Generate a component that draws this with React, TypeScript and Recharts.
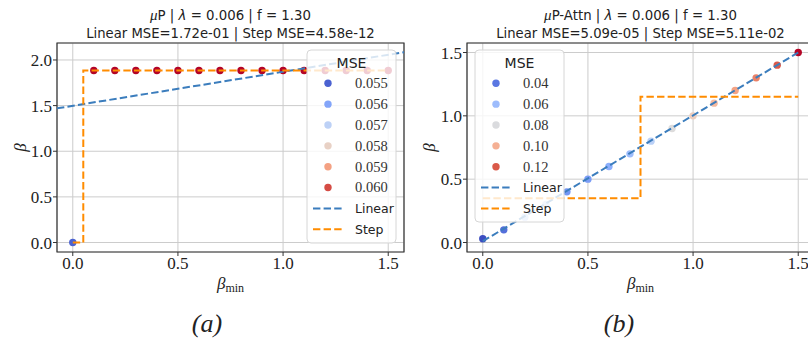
import React from 'react';
import { ComposedChart, Scatter, XAxis, YAxis, CartesianGrid, ReferenceArea } from 'recharts';

// ---------- data ----------
const betaMin = [0, 0.1, 0.2, 0.3, 0.4, 0.5, 0.6, 0.7, 0.8, 0.9, 1.0, 1.1, 1.2, 1.3, 1.4, 1.5];

// (a) muP
const betaA = [0, 1.885, 1.885, 1.885, 1.885, 1.885, 1.885, 1.885, 1.885, 1.885, 1.885, 1.885, 1.885, 1.885, 1.885, 1.885];
const mseA = [0.0550, 0.0606, 0.0606, 0.0606, 0.0606, 0.0606, 0.0606, 0.0606, 0.0606, 0.0606, 0.0606, 0.0606, 0.0606, 0.0606, 0.0606, 0.0606];
const linearAx = [-0.075, 1.575];
const linearAy = [1.47, 2.085];
const stepA = { threshold: 0.05, low: 0, high: 1.885, start: 0, end: 1.5 };
const legendA = [0.055, 0.056, 0.057, 0.058, 0.059, 0.060];
const cmapA = { vmin: 0.0547, vmax: 0.0606 };
const yDomainA: [number, number] = [-0.104, 2.186];

// (b) muP-Attn
const betaB = [0.03, 0.1, 0.2, 0.3, 0.4, 0.5, 0.6, 0.7, 0.8, 0.9, 1.0, 1.1, 1.2, 1.3, 1.4, 1.5];
const mseB = [0.030, 0.038, 0.066, 0.069, 0.048, 0.050, 0.055, 0.060, 0.069, 0.081, 0.089, 0.097, 0.104, 0.112, 0.120, 0.132];
const linearBx = [0, 1.5];
const linearBy = [0.01, 1.5];
const stepB = { threshold: 0.75, low: 0.35, high: 1.15, start: 0, end: 1.5 };
const legendB = [0.04, 0.06, 0.08, 0.10, 0.12];
const cmapB = { vmin: 0.0297, vmax: 0.1323 };
const yDomainB: [number, number] = [-0.075, 1.575];

const xDomain: [number, number] = [-0.075, 1.575];
const ticksX = [0, 0.5, 1.0, 1.5];
const ticksYA = [0, 0.5, 1.0, 1.5, 2.0];
const ticksYB = [0, 0.5, 1.0, 1.5];

// ---------- styling ----------
const BLUE = '#3b7dbd';
const ORANGE = '#ff8c00';
const DASH = '7.4 3.2';
const SERIF = "'Liberation Serif', 'Times New Roman', 'DejaVu Serif'";
const SANS = "'DejaVu Sans', 'Liberation Sans'";

const coolwarmStops = ['#3b4cc0', '#6282ea', '#8db0fe', '#b9d0f9', '#dddcdc', '#f5c4ac', '#f49a7b', '#dc5d4b', '#b40426'];
function hex(h: string) {
  return [parseInt(h.slice(1, 3), 16), parseInt(h.slice(3, 5), 16), parseInt(h.slice(5, 7), 16)];
}
function coolwarm(v: number, vmin: number, vmax: number) {
  let t = (v - vmin) / (vmax - vmin);
  t = Math.max(0, Math.min(1, t));
  const pos = t * (coolwarmStops.length - 1);
  const i = Math.min(Math.floor(pos), coolwarmStops.length - 2);
  const f = pos - i;
  const a = hex(coolwarmStops[i]);
  const b = hex(coolwarmStops[i + 1]);
  const c = a.map((av, k) => Math.round(av + (b[k] - av) * f));
  return `rgb(${c[0]},${c[1]},${c[2]})`;
}

function stepPoints(s: { threshold: number; low: number; high: number; start: number; end: number }) {
  return [
    { x: s.start, y: s.low },
    { x: s.threshold, y: s.low },
    { x: s.threshold, y: s.high },
    { x: s.end, y: s.high },
  ];
}

const dotShape = (props: any) => {
  const { cx, cy, payload } = props;
  if (cx == null || cy == null) return <g />;
  return <circle cx={cx} cy={cy} r={3.7} fill={payload.color} />;
};
const noShape = () => <g />;

type PanelProps = {
  beta: number[];
  mse: number[];
  cmap: { vmin: number; vmax: number };
  linX: number[];
  linY: number[];
  step: { threshold: number; low: number; high: number; start: number; end: number };
  yDomain: [number, number];
  yTicks: number[];
  width: number;
  yAxisWidth: number;
};

function Panel(p: PanelProps) {
  const pts = betaMin.map((x, i) => ({ x, y: p.beta[i], color: coolwarm(p.mse[i], p.cmap.vmin, p.cmap.vmax) }));
  const lin = p.linX.map((x, i) => ({ x, y: p.linY[i] }));
  const stp = stepPoints(p.step);
  const tickStyle = { fontFamily: SERIF, fontSize: 17, fill: '#222', style: { fontFamily: SERIF } };
  return (
    <ComposedChart width={p.width} height={339} margin={{ top: 43, right: 2, bottom: 57, left: 0 }}>
      <CartesianGrid stroke="#cccccc" strokeWidth={1} />
      <XAxis
        type="number"
        dataKey="x"
        domain={xDomain}
        ticks={ticksX}
        allowDataOverflow
        axisLine={false}
        tickLine={{ stroke: '#333' }}
        tickSize={4}
        tickMargin={1}
        height={30}
        tick={tickStyle}
        tickFormatter={(v: number) => v.toFixed(1)}
      />
      <YAxis
        type="number"
        dataKey="y"
        domain={p.yDomain}
        ticks={p.yTicks}
        allowDataOverflow
        axisLine={false}
        tickLine={{ stroke: '#333' }}
        tickSize={4}
        tickMargin={1}
        width={p.yAxisWidth}
        tick={tickStyle}
        tickFormatter={(v: number) => v.toFixed(1)}
      />
      <Scatter data={pts} shape={dotShape} isAnimationActive={false} />
      <Scatter
        data={lin}
        shape={noShape}
        line={{ stroke: BLUE, strokeWidth: 2, strokeDasharray: DASH }}
        lineType="joint"
        isAnimationActive={false}
      />
      <Scatter
        data={stp}
        shape={noShape}
        line={{ stroke: ORANGE, strokeWidth: 2, strokeDasharray: DASH }}
        lineType="joint"
        isAnimationActive={false}
      />
      <ReferenceArea
        x1={xDomain[0]}
        x2={xDomain[1]}
        y1={p.yDomain[0]}
        y2={p.yDomain[1]}
        fill="none"
        stroke="#333"
        strokeWidth={1.2}
        ifOverflow="visible"
      />
    </ComposedChart>
  );
}

function LegendBox({ x, values, cmap, fmt, height }: { x: number; values: number[]; cmap: { vmin: number; vmax: number }; fmt: (v: number) => string; height: number }) {
  const top = 50;
  const rowY = (i: number) => 83.3 + i * 20.85;
  const n = values.length;
  return (
    <g>
      <rect x={x} y={top} width={89} height={height} rx={4} fill="#ffffff" fillOpacity={0.8} stroke="#d6d6d6" strokeWidth={1} />
      <text x={x + 44.5} y={68} textAnchor="middle" style={{ fontFamily: SANS }} fontSize={14} fill="#222">MSE</text>
      {values.map((v, i) => (
        <g key={i}>
          <circle cx={x + 21} cy={rowY(i)} r={3.7} fill={coolwarm(v, cmap.vmin, cmap.vmax)} />
          <text x={x + 48} y={rowY(i) + 4.8} style={{ fontFamily: SERIF }} fontSize={14.5} fill="#333">{fmt(v)}</text>
        </g>
      ))}
      <line x1={x + 6} x2={x + 36} y1={rowY(n)} y2={rowY(n)} stroke={BLUE} strokeWidth={2} strokeDasharray={DASH} />
      <text x={x + 48} y={rowY(n) + 4.8} style={{ fontFamily: SANS }} fontSize={12.5} fill="#222">Linear</text>
      <line x1={x + 6} x2={x + 36} y1={rowY(n + 1)} y2={rowY(n + 1)} stroke={ORANGE} strokeWidth={2} strokeDasharray={DASH} />
      <text x={x + 48} y={rowY(n + 1) + 4.8} style={{ fontFamily: SANS }} fontSize={12.5} fill="#222">Step</text>
    </g>
  );
}

function Titles({ cx, name, l1, l2 }: { cx: number; name: string; l1: string; l2: string }) {
  return (
    <g fill="#222">
      <text x={cx} y={20} textAnchor="middle" fontSize={13.3} style={{ fontFamily: SANS }}>
        <tspan fontStyle="italic" style={{ fontFamily: SERIF }} fontSize={15}>μ</tspan>
        <tspan>{name} | </tspan>
        <tspan fontStyle="italic">λ</tspan>
        <tspan> = {l1} | f = 1.30</tspan>
      </text>
      <text x={cx} y={38.3} textAnchor="middle" fontSize={13.2} style={{ fontFamily: SANS }}>{l2}</text>
    </g>
  );
}

function AxisLabels({ cx, ylx, tag, tagX }: { cx: number; ylx: number; tag: string; tagX: number }) {
  return (
    <g fill="#222" style={{ fontFamily: SERIF }}>
      <text x={ylx} y={147.5} transform={`rotate(-90 ${ylx} ${147.5})`} textAnchor="middle" dominantBaseline="central" fontStyle="italic" fontSize={17}>β</text>
      <text x={cx} y={289} textAnchor="middle" fontSize={17}>
        <tspan fontStyle="italic">β</tspan>
        <tspan fontSize={12} dy={3}>min</tspan>
      </text>
      <text x={tagX} y={332} textAnchor="middle" fontStyle="italic" fontSize={26}>{tag}</text>
    </g>
  );
}

export default function App() {
  return (
    <div style={{ position: 'absolute', left: 0, top: 0, width: 808, height: 339, overflow: 'hidden', background: '#fff' }}>
      <div style={{ position: 'absolute', left: 0, top: 0 }}>
        <Panel beta={betaA} mse={mseA} cmap={cmapA} linX={linearAx} linY={linearAy} step={stepA} yDomain={yDomainA} yTicks={ticksYA} width={406} yAxisWidth={57} />
      </div>
      <div style={{ position: 'absolute', left: 404, top: 0 }}>
        <Panel beta={betaB} mse={mseB} cmap={cmapB} linX={linearBx} linY={linearBy} step={stepB} yDomain={yDomainB} yTicks={ticksYB} width={412} yAxisWidth={63} />
      </div>
      <svg width={808} height={339} style={{ position: 'absolute', left: 0, top: 0, pointerEvents: 'none' }}>
        <Titles cx={230.5} name="P" l1="0.006" l2="Linear MSE=1.72e-01 | Step MSE=4.58e-12" />
        <Titles cx={640.5} name="P-Attn" l1="0.006" l2="Linear MSE=5.09e-05 | Step MSE=5.11e-02" />
        <AxisLabels cx={230.5} ylx={20} tag="(a)" tagX={207} />
        <AxisLabels cx={640.5} ylx={429} tag="(b)" tagX={619} />
        <LegendBox x={307} values={legendA} cmap={cmapA} fmt={(v) => v.toFixed(3)} height={193} />
        <LegendBox x={475} values={legendB} cmap={cmapB} fmt={(v) => v.toFixed(2)} height={172} />
      </svg>
    </div>
  );
}
